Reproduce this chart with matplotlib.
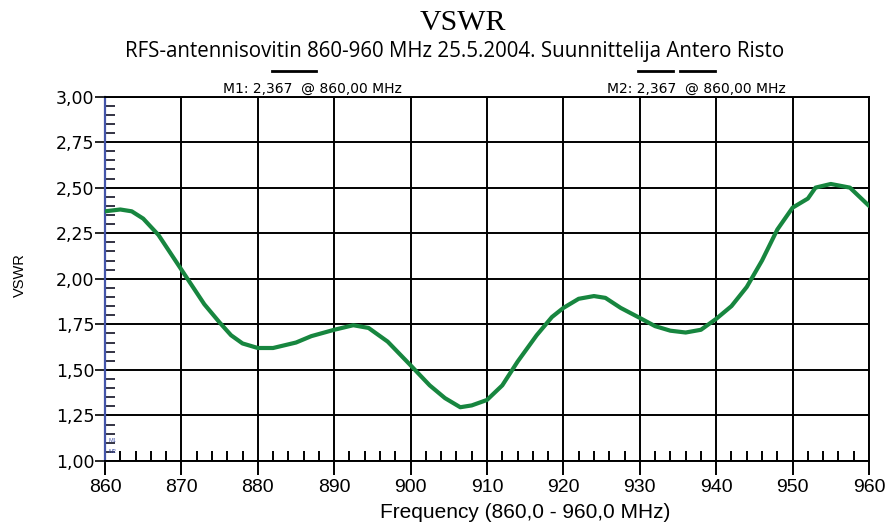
import matplotlib
matplotlib.use("Agg")
import matplotlib.pyplot as plt
from matplotlib.ticker import MultipleLocator, FuncFormatter

freq = [860, 862, 863.5, 865, 867, 870, 873, 875, 876.5, 878, 880, 882, 885, 887, 890,
        892.5, 894.5, 897, 900, 902.5, 904.5, 906.5, 908, 910, 912, 914, 916.5, 918.5,
        920, 922, 924, 925.5, 927.5, 930, 932, 934, 936, 938, 940, 942, 944, 946, 948,
        950, 952, 953, 955, 957.5, 960]
vswr = [2.37, 2.38, 2.37, 2.33, 2.24, 2.05, 1.86, 1.76, 1.69, 1.645, 1.62, 1.62, 1.65,
        1.685, 1.72, 1.745, 1.73, 1.655, 1.525, 1.415, 1.345, 1.295, 1.305, 1.335, 1.415,
        1.545, 1.69, 1.79, 1.84, 1.89, 1.905, 1.895, 1.84, 1.785, 1.74, 1.715, 1.705,
        1.72, 1.78, 1.85, 1.955, 2.10, 2.27, 2.39, 2.44, 2.50, 2.52, 2.50, 2.40]

title = "VSWR"
subtitle = "RFS-antennisovitin 860-960 MHz 25.5.2004. Suunnittelija Antero Risto"
marker1 = "M1: 2,367  @ 860,00 MHz"
marker2 = "M2: 2,367  @ 860,00 MHz"
xlabel = "Frequency (860,0 - 960,0 MHz)"
ylabel = "VSWR"

W, H = 896, 522
fig = plt.figure(figsize=(W / 100, H / 100), dpi=100)
ax = fig.add_axes([105 / W, 1 - 461 / H, (869 - 105) / W, (461 - 96.5) / H])

ax.plot(freq, vswr, color="#17863f", lw=3.0, solid_capstyle="round",
        solid_joinstyle="round", zorder=3)

ax.set_xlim(860, 960)
ax.set_ylim(1.0, 3.0)
ax.xaxis.set_major_locator(MultipleLocator(10))
ax.xaxis.set_minor_locator(MultipleLocator(2))
ax.yaxis.set_major_locator(MultipleLocator(0.25))
ax.yaxis.set_minor_locator(MultipleLocator(0.05))
ax.yaxis.set_major_formatter(FuncFormatter(lambda v, p: f"{v:.2f}".replace(".", ",")))
ax.xaxis.set_major_formatter(FuncFormatter(lambda v, p: f"{v:.0f}"))

ax.grid(True, which="major", color="black", lw=1.4)
ax.set_axisbelow(True)

for s in ["top", "right", "bottom"]:
    ax.spines[s].set_color("black")
    ax.spines[s].set_linewidth(1.4)
ax.spines["left"].set_color("#4455aa")
ax.spines["left"].set_linewidth(1.6)

ax.tick_params(axis="x", which="major", direction="out", length=10, width=1.4,
               color="black", pad=3, labelsize=14)
ax.tick_params(axis="x", which="minor", direction="in", length=7, width=1.4, color="black")
ax.tick_params(axis="y", which="major", direction="out", length=7, width=1.2,
               color="black", pad=0.5, labelsize=12.5)
ax.tick_params(axis="y", which="minor", direction="in", length=7, width=1.4, color="#333344")
for lab in ax.get_xticklabels():
    lab.set_family("Liberation Sans")
for lab in ax.get_yticklabels():
    lab.set_family("DejaVu Sans")

fig.text(380 / W, 1 - 512 / H, xlabel, ha="left", va="center", fontsize=15,
         family="Liberation Sans")
fig.text(20 / W, 1 - 275 / H, ylabel, ha="center", va="center", fontsize=10.5,
         family="Liberation Sans", rotation=90)

fig.text(463 / W, 1 - 23 / H, title, ha="center", va="center", fontsize=21.5,
         family="Liberation Serif")
fig.text(454.5 / W, 1 - 52 / H, subtitle, ha="center", va="center", fontsize=14.8,
         family="Open Sans")
fig.text(223 / W, 1 - 88.5 / H, marker1, ha="left", va="center", fontsize=10,
         family="DejaVu Sans")
fig.text(607 / W, 1 - 88.5 / H, marker2, ha="left", va="center", fontsize=10,
         family="DejaVu Sans")

for x0, x1 in [(272, 316), (638, 673), (680, 715)]:
    fig.add_artist(plt.Line2D([x0 / W, x1 / W], [1 - 71 / H, 1 - 71 / H],
                              color="black", lw=2, transform=fig.transFigure))

# small marker tags at bottom-left
ax.text(860.4, 1.11, "M1", fontsize=4, color="#4455aa", family="Liberation Sans",
        ha="left", va="center")
ax.text(860.4, 1.05, "M2", fontsize=4, color="#4455aa", family="Liberation Sans",
        ha="left", va="center")

fig.savefig("out.png", dpi=100)
